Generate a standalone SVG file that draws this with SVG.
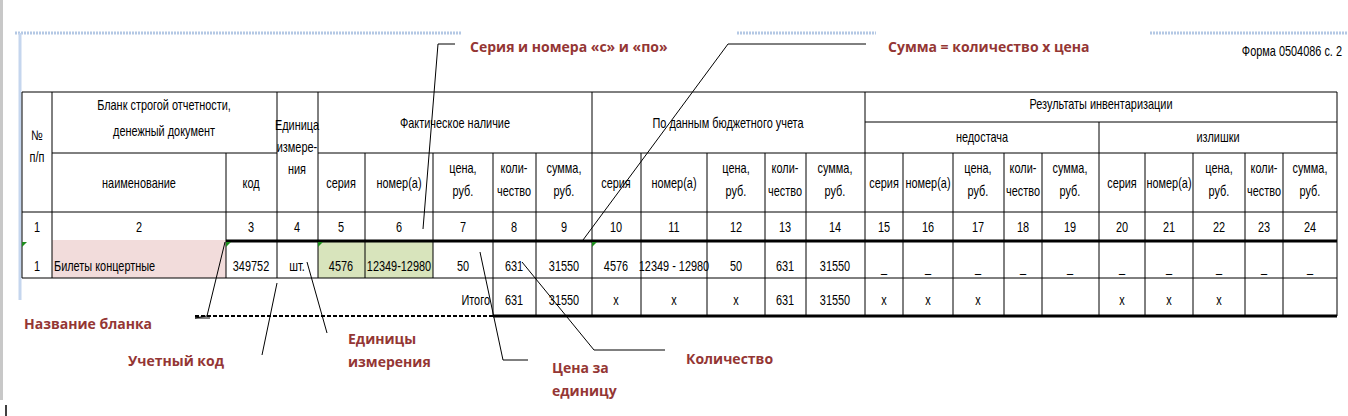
<svg xmlns="http://www.w3.org/2000/svg" width="1348" height="416" viewBox="0 0 1348 416">
<style>
.t text{font-family:"Liberation Sans",Arial,sans-serif;font-size:14px;fill:#000;text-anchor:middle;transform-box:fill-box;transform-origin:center;transform:scaleX(.78)}
.t text.l{text-anchor:start;transform-origin:left center}
.t text.r{text-anchor:end;transform-origin:right center}
.a{font-family:"Open Sans","Liberation Sans",sans-serif;font-weight:bold;font-size:14px;fill:#943634}
.g line{stroke:#000;stroke-width:1}
.k{stroke:#000;stroke-width:3}
.c{fill:none;stroke:#000;stroke-width:1}
</style>
<rect width="1348" height="416" fill="#fff"/>
<rect x="0" y="0" width="3" height="400" fill="#c8c8c8"/>
<line x1="6" y1="405" x2="6" y2="416" stroke="#000" stroke-width="1.5"/>
<g stroke="#b4c8e4" stroke-width="3" stroke-dasharray="2 1">
<line x1="15" y1="33" x2="462" y2="33"/><line x1="737" y1="33" x2="876" y2="33"/><line x1="1150" y1="33" x2="1348" y2="33"/>
</g>
<line x1="20" y1="33" x2="20" y2="300" stroke="#c5d6ee" stroke-width="3"/>
<g id="table">
<rect x="52" y="240" width="174" height="38" fill="#f2dcdb"/>
<rect x="318" y="240" width="115" height="38" fill="#d8e4bc"/>
<g class="g">
<line x1="22" y1="92" x2="1337" y2="92"/>
<line x1="865" y1="122" x2="1337" y2="122"/>
<line x1="52" y1="153" x2="277" y2="153"/><line x1="318" y1="153" x2="1337" y2="153"/>
<line x1="22" y1="212" x2="1337" y2="212"/>
<line x1="22" y1="278" x2="1337" y2="278"/>
<line x1="22" y1="92" x2="22" y2="278"/>
<line x1="52" y1="92" x2="52" y2="278"/>
<line x1="226" y1="153" x2="226" y2="278"/>
<line x1="277" y1="92" x2="277" y2="278"/>
<line x1="318" y1="92" x2="318" y2="278"/>
<line x1="365" y1="153" x2="365" y2="278"/>
<line x1="433" y1="153" x2="433" y2="278"/>
<line x1="493" y1="153" x2="493" y2="316"/>
<line x1="536" y1="153" x2="536" y2="316"/>
<line x1="592" y1="92" x2="592" y2="316"/>
<line x1="641" y1="153" x2="641" y2="316"/>
<line x1="707" y1="153" x2="707" y2="316"/>
<line x1="765" y1="153" x2="765" y2="316"/>
<line x1="806" y1="153" x2="806" y2="316"/>
<line x1="865" y1="92" x2="865" y2="316"/>
<line x1="903" y1="153" x2="903" y2="316"/>
<line x1="953" y1="153" x2="953" y2="316"/>
<line x1="1004" y1="153" x2="1004" y2="316"/>
<line x1="1042" y1="153" x2="1042" y2="316"/>
<line x1="1099" y1="122" x2="1099" y2="316"/>
<line x1="1145" y1="153" x2="1145" y2="316"/>
<line x1="1193" y1="153" x2="1193" y2="316"/>
<line x1="1245" y1="153" x2="1245" y2="316"/>
<line x1="1283" y1="153" x2="1283" y2="316"/>
<line x1="1337" y1="92" x2="1337" y2="316"/>
</g>
<line class="k" x1="226" y1="241" x2="1337" y2="241"/>
<line class="k" x1="493" y1="316" x2="1337" y2="316"/>
<line x1="195" y1="316" x2="493" y2="316" stroke="#000" stroke-width="2" stroke-dasharray="4 2"/>
<g fill="#1e8c1e"><path d="M22 242h5l-5 5z"/><path d="M226 242h5l-5 5z"/><path d="M318 242h5l-5 5z"/><path d="M592 242h5l-5 5z"/></g>
<g class="t">
<text x="37" y="140">№</text><text x="37" y="162">п/п</text>
<text x="164" y="110">Бланк строгой отчетности,</text><text x="164" y="136">денежный документ</text>
<text x="297" y="130">Единица</text><text x="297" y="152">измере-</text><text x="297" y="174">ния</text>
<text x="455" y="128">Фактическое наличие</text>
<text x="728" y="128">По данным  бюджетного учета</text>
<text x="1101" y="109">Результаты инвентаризации</text>
<text x="982" y="142">недостача</text><text x="1218" y="142">излишки</text>
<text x="139" y="188">наименование</text><text x="251" y="188">код</text>
<text x="341" y="188">серия</text><text x="399" y="188">номер(а)</text>
<text x="463" y="173">цена,</text><text x="463" y="196">руб.</text>
<text x="514" y="173">коли-</text><text x="514" y="196">чество</text>
<text x="564" y="173">сумма,</text><text x="564" y="196">руб.</text>
<text x="616" y="188">серия</text><text x="674" y="188">номер(а)</text>
<text x="736" y="173">цена,</text><text x="736" y="196">руб.</text>
<text x="785" y="173">коли-</text><text x="785" y="196">чество</text>
<text x="835" y="173">сумма,</text><text x="835" y="196">руб.</text>
<text x="884" y="188">серия</text><text x="928" y="188">номер(а)</text>
<text x="978" y="173">цена,</text><text x="978" y="196">руб.</text>
<text x="1023" y="173">коли-</text><text x="1023" y="196">чество</text>
<text x="1070" y="173">сумма,</text><text x="1070" y="196">руб.</text>
<text x="1122" y="188">серия</text><text x="1169" y="188">номер(а)</text>
<text x="1219" y="173">цена,</text><text x="1219" y="196">руб.</text>
<text x="1264" y="173">коли-</text><text x="1264" y="196">чество</text>
<text x="1310" y="173">сумма,</text><text x="1310" y="196">руб.</text>
<text x="37" y="232">1</text><text x="139" y="232">2</text><text x="251" y="232">3</text><text x="297" y="232">4</text><text x="341" y="232">5</text><text x="399" y="232">6</text><text x="463" y="232">7</text><text x="514" y="232">8</text><text x="564" y="232">9</text><text x="616" y="232">10</text><text x="674" y="232">11</text><text x="736" y="232">12</text><text x="785" y="232">13</text><text x="835" y="232">14</text><text x="884" y="232">15</text><text x="928" y="232">16</text><text x="978" y="232">17</text><text x="1023" y="232">18</text><text x="1070" y="232">19</text><text x="1122" y="232">20</text><text x="1169" y="232">21</text><text x="1219" y="232">22</text><text x="1264" y="232">23</text><text x="1310" y="232">24</text>
<text x="37" y="271">1</text><text class="l" x="54" y="271">Билеты концертные</text><text x="251" y="271">349752</text><text x="297" y="271">шт.</text>
<text x="341" y="271">4576</text><text x="399" y="271">12349-12980</text><text x="463" y="271">50</text><text x="514" y="271">631</text><text x="564" y="271">31550</text>
<text x="616" y="271">4576</text><text x="674" y="271">12349 - 12980</text><text x="736" y="271">50</text><text x="785" y="271">631</text><text x="835" y="271">31550</text>
<text x="884" y="272">_</text><text x="928" y="272">_</text><text x="978" y="272">_</text><text x="1023" y="272">_</text><text x="1070" y="272">_</text><text x="1122" y="272">_</text><text x="1169" y="272">_</text><text x="1219" y="272">_</text><text x="1264" y="272">_</text><text x="1310" y="272">_</text>
<text class="r" x="490" y="305">Итого</text><text x="514" y="305">631</text><text x="564" y="305">31550</text><text x="616" y="305">x</text><text x="674" y="305">x</text><text x="736" y="305">x</text><text x="785" y="305">631</text><text x="835" y="305">31550</text><text x="884" y="305">x</text><text x="928" y="305">x</text><text x="978" y="305">x</text><text x="1122" y="305">x</text><text x="1169" y="305">x</text><text x="1219" y="305">x</text>
<text class="r" x="1342" y="56">Форма 0504086 с. 2</text>
</g>
</g>
<g id="connectors" class="c">
<polyline points="455,44 438,44 423,229"/>
<polyline points="866,44 728,44 583,240"/>
<polyline points="225,242 207,316 195,318 210,318"/>
<line x1="277" y1="283" x2="262" y2="355"/>
<line x1="307" y1="262" x2="327" y2="333"/>
<polyline points="480,252 503,360 528,360"/>
<polyline points="522,262 594,350 665,350"/>
</g>
<g id="labels" class="a">
<text id="n1" x="470" y="52">Серия и номера «с» и «по»</text>
<text id="n2" x="888" y="52">Сумма = количество х цена</text>
<text id="n3" x="24" y="329">Название бланка</text>
<text id="n4" x="128" y="366">Учетный код</text>
<g id="n5"><text x="348" y="344">Единицы</text><text x="348" y="367">измерения</text></g>
<g id="n6"><text x="552" y="373">Цена за</text><text x="552" y="396">единицу</text></g>
<text id="n7" x="686" y="364">Количество</text>
</g>
</svg>
